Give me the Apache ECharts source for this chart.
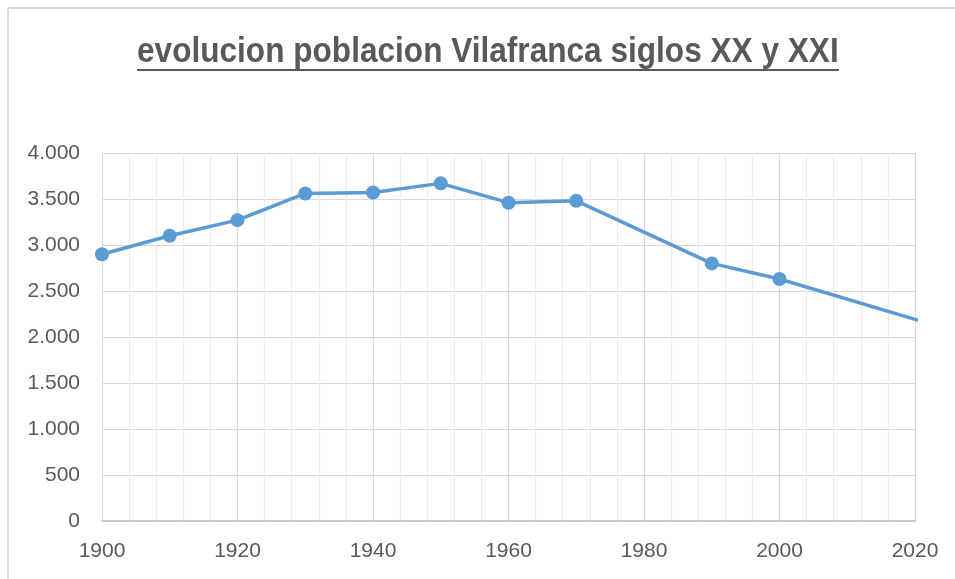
<!DOCTYPE html>
<html>
<head>
<meta charset="utf-8">
<script src="https://cdn.jsdelivr.net/npm/echarts@6/dist/echarts.min.js"></script>
<style>
  html, body { margin: 0; padding: 0; background: #fff; }
  #main { width: 955px; height: 579px; }
</style>
</head>
<body>
<div id="main"></div>
<script>
// data
const titleText = 'evolucion poblacion Vilafranca siglos XX y XXI';
const years = [1900, 1910, 1920, 1930, 1940, 1950, 1960, 1970, 1990, 2000, 2021];
const population = [2900, 3100, 3270, 3560, 3570, 3670, 3460, 3480, 2800, 2630, 2170];
const xTicks = [1900, 1920, 1940, 1960, 1980, 2000, 2020];
const yTicks = [0, 500, 1000, 1500, 2000, 2500, 3000, 3500, 4000];

const fontFam = '"Liberation Sans", Arial, sans-serif';
const textColor = '#595959';
const lineColor = '#5b9bd5';

const fmtThousands = (v) => String(v).replace(/\B(?=(\d{3})+(?!\d))/g, '.');

const chart = echarts.init(document.getElementById('main'), null, { renderer: 'canvas' });

const option = {
  animation: false,
  backgroundColor: '#fff',
  grid: { left: 102, right: 40, top: 153, bottom: 58, containLabel: false },
  graphic: [
    // outer frame of the chart area
    { type: 'line', shape: { x1: 8, y1: 8, x2: 8, y2: 579 }, style: { stroke: '#d9d9d9', lineWidth: 2 } },
    { type: 'line', shape: { x1: 8, y1: 8, x2: 955, y2: 8 }, style: { stroke: '#d9d9d9', lineWidth: 2 } },
    // title with underline
    {
      type: 'text', left: 137, top: 34,
      scaleY: 1.12,
      style: { text: titleText, font: 'bold 31.6px ' + fontFam, fill: textColor }
    },
    { type: 'line', shape: { x1: 137, y1: 70, x2: 839, y2: 70 }, style: { stroke: textColor, lineWidth: 2 } }
  ],
  xAxis: {
    type: 'value',
    min: xTicks[0],
    max: xTicks[xTicks.length - 1],
    interval: 20,
    axisLine: { show: true, onZero: false, lineStyle: { color: '#bfbfbf', width: 1.5 } },
    axisTick: { show: false },
    axisLabel: {
      color: textColor, fontSize: 21, fontFamily: fontFam, margin: 20,
      formatter: (v) => String(v)
    },
    splitLine: { show: true, lineStyle: { color: '#d9d9d9', width: 1.2 } },
    minorTick: { show: false, splitNumber: 5 },
    minorSplitLine: { show: true, lineStyle: { color: '#ececec', width: 1.2 } }
  },
  yAxis: {
    type: 'value',
    min: yTicks[0],
    max: yTicks[yTicks.length - 1],
    interval: 500,
    axisLine: { show: false },
    axisTick: { show: false },
    axisLabel: {
      color: textColor, fontSize: 21, fontFamily: fontFam, margin: 22,
      formatter: (v) => fmtThousands(v)
    },
    splitLine: { show: true, lineStyle: { color: '#d9d9d9', width: 1.2 } }
  },
  series: [{
    type: 'line',
    data: years.map((y, i) => [y, population[i]]),
    clip: true,
    symbol: 'circle',
    symbolSize: 14,
    lineStyle: { color: lineColor, width: 3.5 },
    itemStyle: { color: lineColor },
    z: 5
  }]
};

chart.setOption(option);
</script>
</body>
</html>
